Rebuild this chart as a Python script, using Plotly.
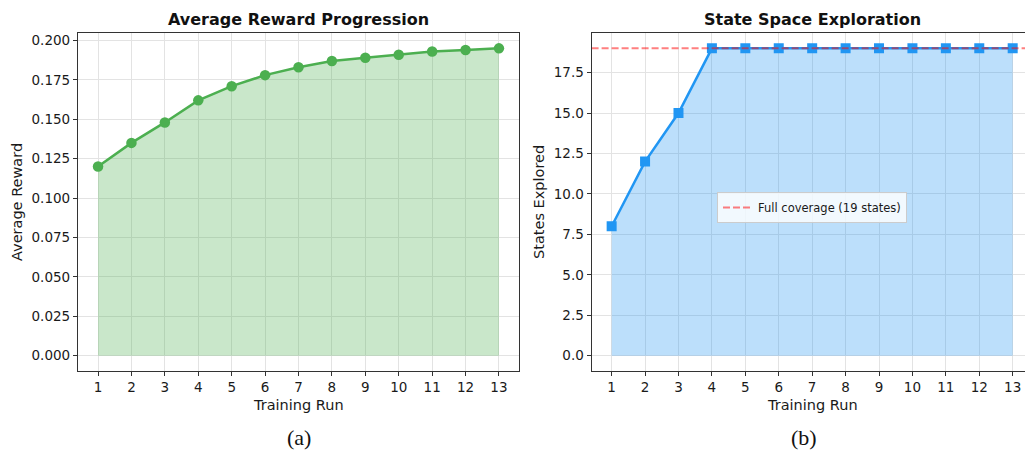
import plotly.graph_objects as go

runs = list(range(1, 14))
avg_reward = [0.120, 0.135, 0.148, 0.162, 0.171, 0.178, 0.183, 0.187, 0.189, 0.191, 0.193, 0.194, 0.195]
states_explored = [8, 12, 15, 19, 19, 19, 19, 19, 19, 19, 19, 19, 19]
full_coverage = 19
titles = ["Average Reward Progression", "State Space Exploration"]
y_labels = ["Average Reward", "States Explored"]
x_label = "Training Run"
captions = ["(a)", "(b)"]
reward_ticks = [0.0, 0.025, 0.05, 0.075, 0.1, 0.125, 0.15, 0.175, 0.2]
state_ticks = [0.0, 2.5, 5.0, 7.5, 10.0, 12.5, 15.0, 17.5]

W, H = 1025, 450
GREEN = "#4CAF50"
BLUE = "#2196F3"
FONT = "DejaVu Sans"
AX = "#333333"
GRID = "#e3e3e3"

def px(x):
    return x / W

def py(y):
    return 1 - y / H

fig = go.Figure()

# left panel
fig.add_trace(go.Scatter(x=runs, y=avg_reward, fill="tozeroy", mode="lines",
                         line=dict(width=0.8, color="rgba(76,175,80,0.3)"),
                         fillcolor="rgba(76,175,80,0.3)", showlegend=False, hoverinfo="skip",
                         xaxis="x", yaxis="y"))
fig.add_trace(go.Scatter(x=runs, y=avg_reward, mode="lines+markers",
                         line=dict(width=2.5, color=GREEN),
                         marker=dict(size=10.5, color=GREEN, symbol="circle"),
                         showlegend=False, xaxis="x", yaxis="y"))

# right panel
fig.add_trace(go.Scatter(x=runs, y=states_explored, fill="tozeroy", mode="lines",
                         line=dict(width=0.8, color="rgba(33,150,243,0.3)"),
                         fillcolor="rgba(33,150,243,0.3)", showlegend=False, hoverinfo="skip",
                         xaxis="x2", yaxis="y2"))
fig.add_trace(go.Scatter(x=runs, y=states_explored, mode="lines+markers",
                         line=dict(width=2.5, color=BLUE),
                         marker=dict(size=10, color=BLUE, symbol="square"),
                         showlegend=False, xaxis="x2", yaxis="y2"))

x2_lo = 0.4
x2_hi = 0.4 + (W - 591.6) / 33.42
fig.add_trace(go.Scatter(x=[x2_lo, x2_hi], y=[full_coverage, full_coverage], mode="lines",
                         line=dict(width=2, color="rgba(255,0,0,0.5)", dash="7px,3px"),
                         name="Full coverage (19 states)", showlegend=True,
                         xaxis="x2", yaxis="y2"))

ydom = [py(371), py(33)]
axis_common = dict(showline=True, linecolor=AX, linewidth=1.2, ticks="outside", ticklen=4,
                   tickcolor=AX, tickwidth=1, showgrid=True, gridcolor=GRID, gridwidth=1,
                   zeroline=False, tickfont=dict(family=FONT, size=13.5, color="#1a1a1a"))

fig.update_layout(
    width=W, height=H,
    margin=dict(l=0, r=0, t=0, b=0),
    paper_bgcolor="white", plot_bgcolor="white",
    font=dict(family=FONT, size=13, color="#222"),
    xaxis=dict(domain=[px(78), px(519)], range=[0.4, 13.6], tickmode="array", tickvals=runs,
               mirror=True, anchor="y", **axis_common),
    yaxis=dict(domain=ydom, range=[-0.00975, 0.20475], tickmode="array", tickvals=reward_ticks,
               ticktext=[f"{v:.3f}" for v in reward_ticks], mirror=True, anchor="x", **axis_common),
    xaxis2=dict(domain=[px(591.6), 1.0], range=[x2_lo, x2_hi], tickmode="array", tickvals=runs,
                mirror=True, anchor="y2", **axis_common),
    yaxis2=dict(domain=ydom, range=[-0.95, 19.95], tickmode="array", tickvals=state_ticks,
                ticktext=[f"{v:.1f}" for v in state_ticks], mirror=False, anchor="x2", **axis_common),
    legend=dict(x=px(717), y=py(192), xanchor="left", yanchor="top",
                bgcolor="rgba(255,255,255,0.8)", bordercolor="#cccccc", borderwidth=1,
                font=dict(family=FONT, size=11.5, color="#1a1a1a"),
                itemwidth=30, tracegroupgap=0),
)

annotations = []
centers = [(78 + 519) / 2, (591.6 + 1033) / 2]
for i in range(2):
    annotations.append(dict(text=f"<b>{titles[i]}</b>", x=px(centers[i]), y=py(20),
                            xref="paper", yref="paper", showarrow=False, xanchor="center", yanchor="middle",
                            font=dict(family=FONT, size=16, color="#111")))
    annotations.append(dict(text=x_label, x=px(centers[i]), y=py(405),
                            xref="paper", yref="paper", showarrow=False, xanchor="center", yanchor="middle",
                            font=dict(family=FONT, size=14.5, color="#1a1a1a")))
annotations.append(dict(text=y_labels[0], x=px(17), y=py(202), xref="paper", yref="paper",
                        showarrow=False, textangle=-90, xanchor="center", yanchor="middle",
                        font=dict(family=FONT, size=14.5, color="#1a1a1a")))
annotations.append(dict(text=y_labels[1], x=px(539), y=py(202), xref="paper", yref="paper",
                        showarrow=False, textangle=-90, xanchor="center", yanchor="middle",
                        font=dict(family=FONT, size=14.5, color="#1a1a1a")))
annotations.append(dict(text=captions[0], x=px(299), y=py(437), xref="paper", yref="paper",
                        showarrow=False, xanchor="center", yanchor="middle",
                        font=dict(family="Liberation Serif", size=22, color="#111")))
annotations.append(dict(text=captions[1], x=px(804), y=py(437), xref="paper", yref="paper",
                        showarrow=False, xanchor="center", yanchor="middle",
                        font=dict(family="Liberation Serif", size=22, color="#111")))
fig.update_layout(annotations=annotations)

fig.write_html("out.html", config={"displayModeBar": False},
               post_script="document.body.style.margin='0';document.body.style.overflow='hidden';")
